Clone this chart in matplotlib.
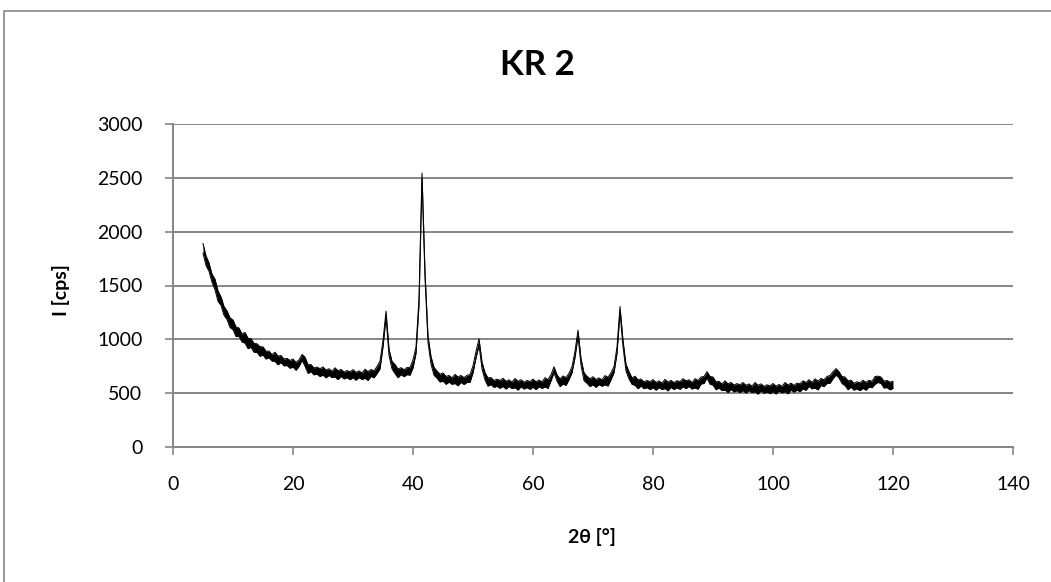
import numpy as np
import matplotlib
matplotlib.use("Agg")
import matplotlib.pyplot as plt
from matplotlib.lines import Line2D

plt.rcParams['font.family'] = ['Lato', 'DejaVu Sans']

# scan grid, 2theta in degrees (0.5 deg step)
two_theta = np.arange(5.0, 120.01, 0.5)

# counts are noisy, so keep the upper and lower edge of the trace [cps]
intensity_hi = [
    1890, 1775, 1710, 1605, 1560, 1450, 1395, 1305, 1265, 1200,   # 5.0 - 9.5
    1180, 1115, 1105, 1050, 1065, 1010, 1007, 962, 959, 932,      # 10.0 - 14.5
    930, 890, 891, 858, 881, 845, 850, 817, 823, 804,             # 15.0 - 19.5
    818, 785, 810, 860, 835, 765, 765, 734, 743, 727,             # 20.0 - 24.5
    744, 715, 727, 704, 736, 708, 721, 696, 710, 698,             # 25.0 - 29.5
    719, 693, 707, 687, 723, 700, 720, 707, 748, 798,             # 30.0 - 34.5
    990, 1262, 910, 795, 767, 725, 737, 717, 738, 740,            # 35.0 - 39.5
    810, 930, 1380, 2545, 1630, 1030, 840, 740, 706, 676,         # 40.0 - 44.5
    688, 655, 665, 642, 675, 650, 665, 644, 666, 673,             # 45.0 - 49.5
    755, 888, 1005, 790, 690, 642, 645, 617, 630, 618,            # 50.0 - 54.5
    638, 611, 624, 602, 636, 610, 625, 602, 618, 608,             # 55.0 - 59.5
    630, 606, 622, 604, 643, 626, 672, 745, 672, 634,             # 60.0 - 64.5
    660, 645, 685, 745, 890, 1085, 820, 690, 658, 634,            # 65.0 - 69.5
    653, 627, 642, 624, 663, 648, 690, 745, 930, 1305,            # 70.0 - 74.5
    990, 768, 700, 642, 658, 623, 632, 605, 618, 606,             # 75.0 - 79.5
    626, 600, 614, 593, 628, 603, 619, 598, 616, 608,             # 80.0 - 84.5
    634, 615, 625, 598, 635, 618, 650, 655, 700, 656,             # 85.0 - 89.5
    650, 605, 610, 584, 615, 587, 600, 575, 589, 578,             # 90.0 - 94.5
    599, 573, 586, 565, 599, 573, 587, 563, 578, 568,             # 95.0 - 99.5
    590, 565, 581, 562, 599, 576, 593, 573, 593, 587,             # 100.0 - 104.5
    615, 599, 625, 600, 633, 612, 637, 624, 656, 664,             # 105.0 - 109.5
    700, 728, 700, 655, 650, 614, 621, 592, 606, 596,             # 110.0 - 114.5
    620, 600, 620, 610, 655, 658, 650, 612, 618, 603,             # 115.0 - 119.5
    610,                                                          # 120.0
]

intensity_lo = [
    1800, 1685, 1632, 1530, 1460, 1353, 1315, 1223, 1185, 1110,   # 5.0 - 9.5
    1090, 1025, 1027, 975, 965, 913, 927, 880, 879, 842,          # 10.0 - 14.5
    855, 817, 829, 798, 796, 763, 785, 753, 757, 731,             # 15.0 - 19.5
    743, 712, 748, 805, 750, 683, 700, 670, 677, 654,             # 20.0 - 24.5
    669, 642, 665, 644, 651, 626, 656, 632, 644, 625,             # 25.0 - 29.5
    644, 620, 645, 627, 638, 618, 655, 643, 682, 725,             # 30.0 - 34.5
    930, 1205, 850, 725, 682, 643, 672, 653, 672, 667,            # 35.0 - 39.5
    735, 870, 1320, 2490, 1570, 970, 770, 666, 640, 603,          # 40.0 - 44.5
    613, 582, 603, 582, 590, 568, 600, 580, 600, 600,             # 45.0 - 49.5
    690, 828, 945, 725, 622, 565, 580, 553, 564, 545,             # 50.0 - 54.5
    563, 538, 562, 542, 551, 528, 560, 538, 552, 535,             # 55.0 - 59.5
    555, 533, 560, 544, 558, 544, 615, 690, 612, 561,             # 60.0 - 64.5
    585, 572, 625, 690, 832, 1030, 760, 616, 592, 561,            # 65.0 - 69.5
    578, 554, 580, 564, 578, 566, 625, 690, 870, 1250,            # 70.0 - 74.5
    930, 705, 632, 582, 573, 541, 567, 541, 552, 533,             # 75.0 - 79.5
    551, 527, 552, 533, 543, 521, 554, 534, 550, 535,             # 80.0 - 84.5
    559, 542, 563, 538, 550, 536, 585, 590, 642, 583,             # 85.0 - 89.5
    575, 532, 548, 524, 530, 505, 535, 511, 523, 505,             # 90.0 - 94.5
    524, 500, 524, 505, 514, 491, 522, 499, 512, 495,             # 95.0 - 99.5
    515, 492, 519, 502, 514, 494, 528, 509, 527, 514,             # 100.0 - 104.5
    540, 526, 563, 540, 548, 530, 572, 560, 590, 591,             # 105.0 - 109.5
    635, 668, 640, 590, 570, 532, 556, 528, 540, 523,             # 110.0 - 114.5
    545, 527, 558, 550, 582, 600, 590, 548, 552, 530,             # 115.0 - 119.5
    545,                                                          # 120.0
]

x_ticks = [0, 20, 40, 60, 80, 100, 120, 140]
y_ticks = [0, 500, 1000, 1500, 2000, 2500, 3000]

grey = '#868686'

fig = plt.figure(figsize=(10.51, 5.82), dpi=100)
ax = fig.add_axes([173/1051, 1 - 447/582, 840/1051, 323/582])

ax.fill_between(two_theta, intensity_lo, intensity_hi, color='black', lw=0)
ax.plot(two_theta, intensity_hi, color='black', lw=0.7)
ax.plot(two_theta, intensity_lo, color='black', lw=0.7)

ax.set_xlim(0, 140)
ax.set_ylim(0, 3000)
ax.set_xticks(x_ticks)
ax.set_yticks(y_ticks)
ax.grid(axis='y', color=grey, lw=1.4)
ax.set_axisbelow(True)

for side in ['top', 'right']:
    ax.spines[side].set_visible(False)
for side in ['left', 'bottom']:
    ax.spines[side].set_color(grey)
    ax.spines[side].set_linewidth(1.4)

ax.tick_params(axis='both', direction='out', length=6, width=1.2, color=grey,
               labelsize=14)
ax.tick_params(axis='x', pad=15)
ax.tick_params(axis='y', pad=16)

ax.set_xlabel('2θ [°]', fontsize=14, fontweight='bold')
ax.set_ylabel('I [cps]', fontsize=14, fontweight='bold')
ax.xaxis.set_label_coords(0.499, -0.25)
ax.yaxis.set_label_coords(-0.1226, 0.486)

fig.text(537/1051, 1 - 65/582, 'KR 2', ha='center', va='center',
         fontsize=25, fontweight='bold')

# chart frame
fig.add_artist(Line2D([4/1051, 4/1051, 1.0], [0.0, 1 - 11/582, 1 - 11/582],
                      transform=fig.transFigure, color=grey, lw=1.2))

fig.savefig('out.png', dpi=100)
